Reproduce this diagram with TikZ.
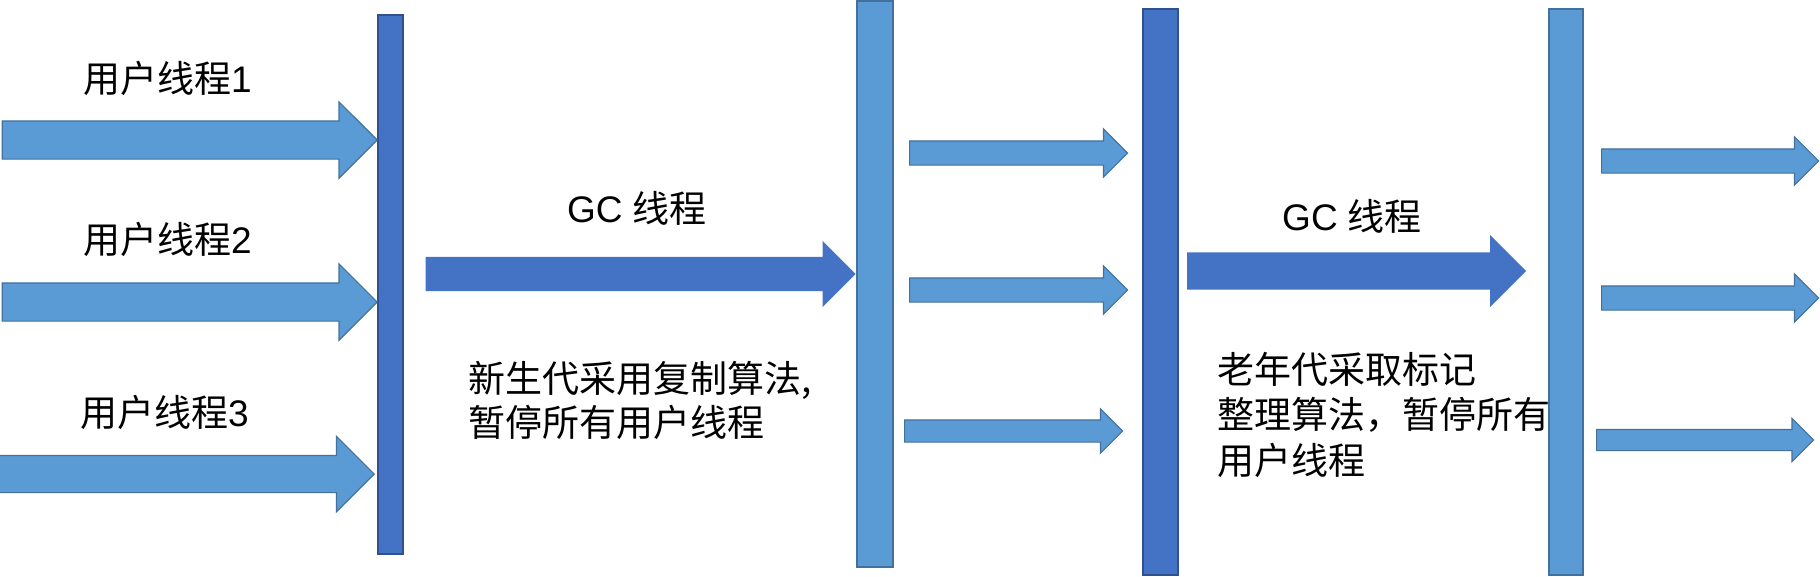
\documentclass[tikz,border=0pt]{standalone}
\usepackage{fontspec}
\setmainfont{Noto Sans CJK SC}
\newfontfamily\arial{Liberation Sans}
\usetikzlibrary{shapes.arrows}
\definecolor{gclight}{RGB}{91,155,213}
\definecolor{gclightedge}{RGB}{65,113,156}
\definecolor{gcdark}{RGB}{68,114,196}
\definecolor{gcdarkedge}{RGB}{47,82,143}
\tikzset{
  bar/.style={draw=gclightedge,fill=gclight,line width=1.5pt,inner sep=0pt},
  darkbar/.style={bar,draw=gcdarkedge,fill=gcdark},
  fatarrow/.style={single arrow,draw=gclightedge,fill=gclight,line width=1.2pt,
                   inner xsep=0pt,inner ysep=18.5pt,single arrow head extend=19pt},
  thinarrow/.style={fatarrow,inner ysep=11.5pt,single arrow head extend=12pt},
  gcarrow/.style={single arrow,fill=gcdark,inner xsep=0pt},
  lbl/.style={font=\fontsize{37pt}{44pt}\selectfont,inner sep=0pt,anchor=west},
}
\begin{document}
\begin{tikzpicture}[x=1pt,y=-1pt]
\useasboundingbox (0,0) rectangle (1820,576);
% safepoint bars
\node[darkbar,minimum width=25pt,minimum height=539pt] (bar1) at (390.5,284.5) {};
\node[bar,minimum width=36pt,minimum height=566pt] (bar2) at (875,284) {};
\node[darkbar,minimum width=35pt,minimum height=566pt] (bar3) at (1160.5,292) {};
\node[bar,minimum width=34pt,minimum height=566pt] (bar4) at (1566,292) {};
% user threads
\node[fatarrow,minimum height=375pt,anchor=tip] (user1) at (378,140) {};
\node[fatarrow,minimum height=375pt,anchor=tip] (user2) at (378,302) {};
\node[fatarrow,minimum height=375pt,inner ysep=18pt,anchor=tip] (user3) at (375,474) {};
\node[lbl] (ulab1) at (83,78) {用户线程{\arial 1}};
\node[lbl] (ulab2) at (83,239) {用户线程{\arial 2}};
\node[lbl] (ulab3) at (80,412) {用户线程{\arial 3}};
% young generation GC
\node[gcarrow,minimum height=430pt,inner ysep=17pt,single arrow head extend=16pt,anchor=tip] (gc1) at (856,274) {};
\node[lbl] (gclab1) at (567,208) {{\arial GC }线程};
\node[lbl,align=left] (young) at (468,400) {新生代采用复制算法,\\暂停所有用户线程};
% threads resume
\node[thinarrow,minimum height=218pt,anchor=tail] (mid1) at (909,153) {};
\node[thinarrow,minimum height=218pt,anchor=tail] (mid2) at (909,290) {};
\node[thinarrow,minimum height=218pt,inner ysep=10.5pt,single arrow head extend=11pt,anchor=tail] (mid3) at (904,431) {};
% old generation GC
\node[gcarrow,minimum height=339pt,inner ysep=18.5pt,single arrow head extend=17.5pt,anchor=tail] (gc2) at (1187,271) {};
\node[lbl] (gclab2) at (1282,216) {{\arial GC }线程};
\node[lbl,align=left,font=\fontsize{37pt}{45.5pt}\selectfont] (old) at (1217,414.5) {老年代采取标记\\整理算法，暂停所有\\用户线程};
% threads resume again
\node[thinarrow,minimum height=217pt,anchor=tail] (out1) at (1601,161) {};
\node[thinarrow,minimum height=217pt,anchor=tail] (out2) at (1601,298) {};
\node[thinarrow,minimum height=217pt,inner ysep=10pt,single arrow head extend=11pt,anchor=tail] (out3) at (1596,440) {};
\end{tikzpicture}
\end{document}
